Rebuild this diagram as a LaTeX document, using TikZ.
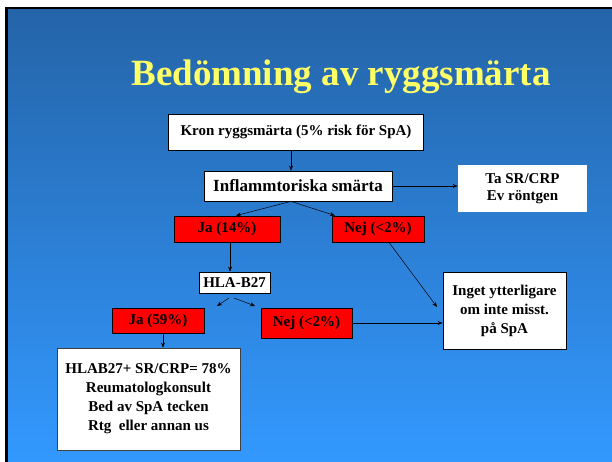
\documentclass[tikz,border=0pt]{standalone}
\usepackage{fontspec}
\setmainfont{Liberation Serif}
\usetikzlibrary{arrows.meta}
\definecolor{slidetop}{RGB}{36,100,168}
\definecolor{slidebot}{RGB}{51,153,255}
\definecolor{titleyel}{RGB}{255,255,102}
\tikzset{
  whitebox/.style={draw=black,fill=white,line width=0.8pt,inner sep=0pt,align=center,
    font=\fontsize{15}{19}\selectfont\bfseries},
  redbox/.style={draw=black,fill=red,line width=0.8pt,inner sep=0pt,align=center,
    font=\fontsize{15}{19}\selectfont\bfseries},
  arr/.style={-{Stealth[length=5pt,width=4pt]},line width=0.5pt}
}
\begin{document}
\begin{tikzpicture}[x=1pt,y=-1pt]
\useasboundingbox (0,0) rectangle (612,462);
% slide background
\fill[white] (0,0) rectangle (612,462);
\fill[black] (5,7) rectangle (615,465);
\shade[top color=slidetop,bottom color=slidebot] (8,9.5) rectangle (615,465);
\node[text=titleyel,font=\fontsize{37}{40}\selectfont\bfseries] (title) at (341,77) {Bedömning av ryggsmärta};
% boxes
\node[whitebox,minimum width=255,minimum height=36] (kron) at (296,132) {Kron ryggsmärta (5\% risk för SpA)};
\node[whitebox,minimum width=188,minimum height=30,font=\fontsize{17}{20}\selectfont\bfseries] (infl) at (298,186) {Inflammtoriska smärta};
\node[whitebox,draw=none,minimum width=129,minimum height=47,font=\fontsize{15}{17.5}\selectfont\bfseries] (ta) at (522.5,188.5) {Ta SR/CRP\\Ev röntgen};
\node[redbox,minimum width=106,minimum height=26] (ja1) at (227,229) {Ja (14\%)};
\node[redbox,minimum width=92,minimum height=26] (nej1) at (378,229) {Nej (<2\%)};
\node[whitebox,minimum width=71,minimum height=21] (hla) at (234.5,282.5) {HLA-B27};
\node[redbox,minimum width=92,minimum height=25] (ja2) at (158,320.5) {Ja (59\%)};
\node[redbox,minimum width=91,minimum height=30] (nej2) at (306.5,323) {Nej (<2\%)};
\node[whitebox,minimum width=123,minimum height=77] (inget) at (504.5,310.5) {Inget ytterligare\\om inte misst.\\på SpA};
\node[whitebox,draw=black!75,minimum width=183,minimum height=102] (hlab) at (148.5,399) {HLAB27+ SR/CRP= 78\%\\Reumatologkonsult\\Bed av SpA tecken\\Rtg~ eller annan us};
% free ends
\coordinate (h1) at (229,298);
\coordinate (h2) at (217,306);
\coordinate (h3) at (234,298);
\coordinate (h4) at (255,306);
\coordinate (n1) at (437,307);
% connectors
\draw[arr] ([xshift=-5pt]kron.south) -- ([xshift=-7pt]infl.north);
\draw[arr] (infl.east) -- (infl.east -| ta.west);
\draw[arr] ([xshift=-7pt]infl.south) -- ([xshift=9pt]ja1.north);
\draw[arr] ([xshift=-7pt]infl.south) -- ([xshift=-43pt]nej1.north);
\draw[arr] ([xshift=3pt]ja1.south) -- ([xshift=-4.5pt]hla.north);
\draw[arr] (h1) -- (h2);
\draw[arr] (h3) -- (h4);
\draw[arr] ([xshift=11pt]nej1.south) -- (n1);
\draw[arr] (nej2.east) -- (nej2.east -| inget.west);
\draw[arr] ([xshift=5pt]ja2.south) -- ([xshift=14.5pt]hlab.north);
\end{tikzpicture}
\end{document}
